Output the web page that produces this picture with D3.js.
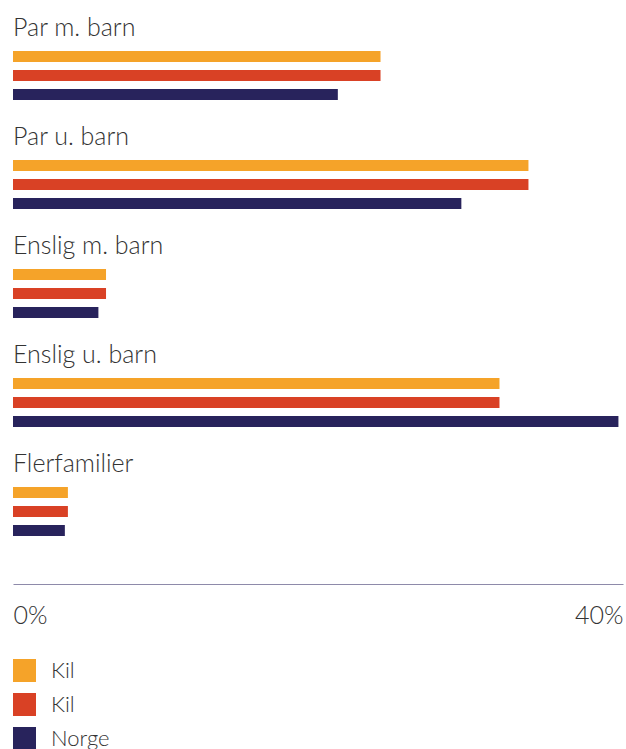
<!DOCTYPE html>
<html>
<head>
<meta charset="utf-8">
<script src="https://cdn.jsdelivr.net/npm/d3@7"></script>
<style>
  body { margin: 0; background: #fff; }
  text { font-family: Lato, "Helvetica Neue", Arial, sans-serif; font-weight: 300; fill: #333; }
</style>
</head>
<body>
<div id="chart"></div>
<script>
// categories and series (percent)
var categories = ["Par m. barn", "Par u. barn", "Enslig m. barn", "Enslig u. barn", "Flerfamilier"];
var seriesNames = ["Kil", "Kil", "Norge"];
var seriesKeys = ["kil1", "kil2", "norge"];
var kil1 = [24.1, 33.8, 6.1, 31.9, 3.6];
var kil2 = [24.1, 33.8, 6.1, 31.9, 3.6];
var norge = [21.3, 29.4, 5.6, 39.7, 3.4];
var tickValues = [0, 40];
var colors = ["#F5A329", "#D94125", "#28235C"];

var chartWidth = 626, chartHeight = 749;
var margin = {left: 13, right: 3};

var data = categories.map(function(c, i) {
  return {cat: c, vals: [kil1[i], kil2[i], norge[i]]};
});

var svg = d3.select("#chart").append("svg")
    .attr("width", chartWidth)
    .attr("height", chartHeight);

var xScale = d3.scaleLinear()
    .domain([0, 40])
    .range([margin.left, chartWidth - margin.right]);

// one band per category, 109px apart
var yScale = d3.scaleBand()
    .domain(categories)
    .range([51, 51 + 109 * categories.length])
    .padding(0);

// bars inside a category
var ySub = d3.scaleBand()
    .domain(seriesKeys)
    .range([0, 49])
    .paddingInner(8 / 19)
    .paddingOuter(0);

var color = d3.scaleOrdinal().domain(seriesKeys).range(colors);

var groups = svg.selectAll("g.group")
    .data(data)
    .enter().append("g")
    .attr("class", "group")
    .attr("transform", function(d) { return "translate(0," + yScale(d.cat) + ")"; });

groups.append("text")
    .attr("x", margin.left)
    .attr("y", -15)
    .style("font-size", "25px")
    .text(function(d) { return d.cat; });

groups.selectAll("rect")
    .data(function(d) { return d.vals.map(function(v, i) { return {key: seriesKeys[i], v: v}; }); })
    .enter().append("rect")
    .attr("x", xScale(0))
    .attr("y", function(d) { return ySub(d.key); })
    .attr("width", function(d) { return xScale(d.v) - xScale(0); })
    .attr("height", ySub.bandwidth())
    .attr("fill", function(d) { return color(d.key); });

// x axis, just the line and the two end labels
var axis = svg.append("g")
    .attr("class", "x axis")
    .attr("transform", "translate(0,584)")
    .call(d3.axisBottom(xScale)
      .tickValues(tickValues)
      .tickSize(0)
      .tickPadding(0)
      .tickFormat(function(d) { return d + "%"; }));

axis.select(".domain").attr("stroke", "#8E8AAA").attr("stroke-width", 1.2);
axis.selectAll(".tick text")
    .attr("y", 40)
    .attr("dy", 0)
    .style("font-size", "25px")
    .attr("text-anchor", function(d, i) { return i === 0 ? "start" : "end"; });
axis.attr("font-family", null).attr("font-size", null);

// legend
var legend = svg.selectAll("g.legend")
    .data(seriesKeys)
    .enter().append("g")
    .attr("class", "legend")
    .attr("transform", function(d, i) { return "translate(" + margin.left + "," + (659 + i * 34) + ")"; });

legend.append("rect")
    .attr("width", 23)
    .attr("height", 23)
    .attr("fill", function(d) { return color(d); });

legend.append("text")
    .attr("x", 38)
    .attr("y", 19)
    .style("font-size", "22px")
    .text(function(d, i) { return seriesNames[i]; });
</script>
</body>
</html>
